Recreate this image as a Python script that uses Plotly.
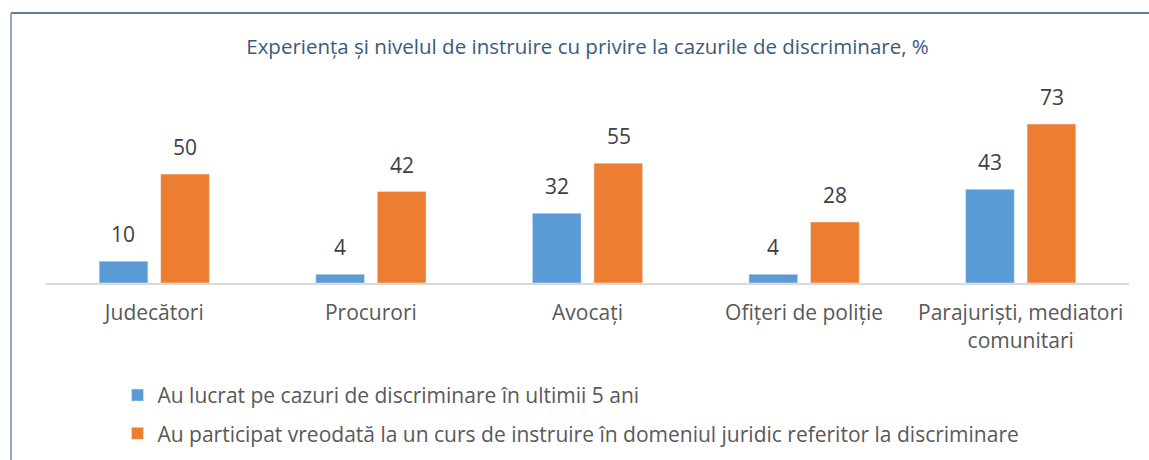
import plotly.graph_objects as go

categories = ["Judecători", "Procurori", "Avocați", "Ofițeri de poliție", "Parajuriști, mediatori<br>comunitari"]
series1_name = "Au lucrat pe cazuri de discriminare în ultimii 5 ani"
series2_name = "Au participat vreodată la un curs de instruire în domeniul juridic referitor la discriminare"
series1 = [10, 4, 32, 4, 43]
series2 = [50, 42, 55, 28, 73]
title_text = "Experiența și nivelul de instruire cu privire la cazurile de discriminare, %"

FONT = "Open Sans"
BLUE = "#5B9BD5"
ORANGE = "#ED7D31"

fig = go.Figure()
fig.add_trace(go.Bar(x=categories, y=series1, name=series1_name, marker_color=BLUE,
                     legendgroup="a", cliponaxis=False))
fig.add_trace(go.Bar(x=categories, y=series2, name=series2_name, marker_color=ORANGE,
                     legendgroup="b", cliponaxis=False))

# data labels placed above each bar (offset to the grouped bar positions)
for vals, dx in ((series1, -31), (series2, 31)):
    for cat, v in zip(categories, vals):
        fig.add_annotation(x=cat, y=v, xref="x", yref="y", text=str(v), showarrow=False,
                           xshift=dx, yshift=27, yanchor="middle", xanchor="center",
                           font=dict(size=21, color="#404040", family=FONT))

fig.update_layout(
    width=1149, height=460,
    margin=dict(l=46, r=20, t=87, b=177, autoexpand=False),
    paper_bgcolor="white", plot_bgcolor="white",
    barmode="group", bargap=0.432, bargroupgap=0.208,
    font=dict(family=FONT, color="#595959"),
    title=dict(text=title_text, x=0.5, xref="paper", xanchor="center",
               y=1 - 47 / 460, yanchor="middle",
               font=dict(size=20.5, color="#3A5A80", family=FONT)),
    xaxis=dict(showline=True, linecolor="#D9D9D9", linewidth=2, ticks="",
               ticklabelstandoff=10, automargin=False,
               tickfont=dict(size=21, color="#595959", family=FONT), showgrid=False),
    yaxis=dict(range=[0, 90], visible=False, showgrid=False),
    showlegend=True,
    legend=dict(orientation="v", x=0.066, xanchor="left", y=-0.469, yanchor="top",
                font=dict(size=21, color="#595959", family=FONT), tracegroupgap=8,
                itemwidth=30, traceorder="grouped"),
)

# chart border (top and left edges visible)
fig.add_shape(type="line", xref="paper", yref="paper", x0=-0.0323, x1=1.02, y0=1.3776, y1=1.3776,
              line=dict(color="#2F4F70", width=1.5))
fig.add_shape(type="line", xref="paper", yref="paper", x0=-0.0323, x1=-0.0323, y0=1.3776, y1=-0.95,
              line=dict(color="#8EA9C1", width=2))

fig.write_html("out.html", config={"displayModeBar": False},
               post_script="document.body.style.margin='0';")
